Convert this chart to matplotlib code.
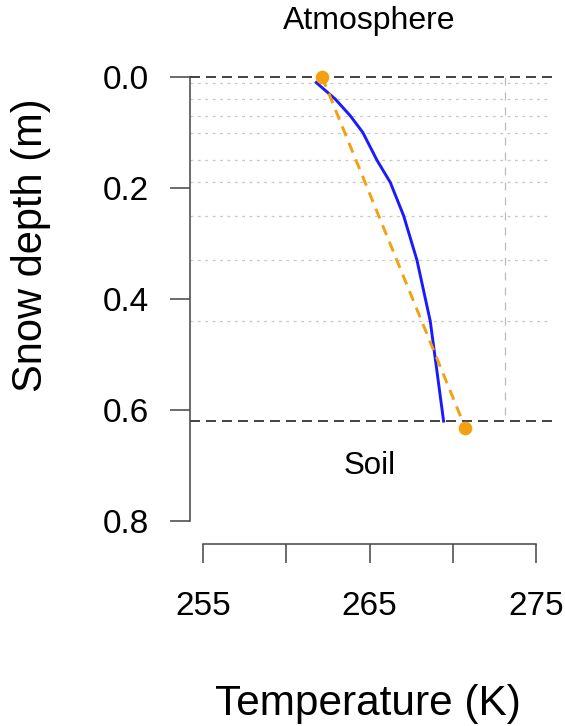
import matplotlib
matplotlib.use("Agg")
import matplotlib.pyplot as plt

plt.rcParams['font.family'] = ['Liberation Sans', 'DejaVu Sans']

# ---- data ----
layer_depths = [0.01, 0.04, 0.07, 0.10, 0.15, 0.19, 0.25, 0.33, 0.44]
snow_depth = 0.62
freezing_K = 273.15
model_depth = [0.01, 0.04, 0.07, 0.10, 0.15, 0.19, 0.25, 0.33, 0.44, 0.62]
model_temp = [261.8, 262.95, 263.85, 264.6, 265.45, 266.25, 267.05, 267.85, 268.65, 269.45]
boundary_depth = [0.0, 0.632]
boundary_temp = [262.15, 270.75]
x_ticks = [255, 260, 265, 270, 275]
x_ticklabels = ['255', '', '265', '', '275']
y_ticks = [0.0, 0.2, 0.4, 0.6, 0.8]
y_ticklabels = ['0.0', '0.2', '0.4', '0.6', '0.8']

W, H = 565, 726
fig = plt.figure(figsize=(W / 100, H / 100), dpi=100)

# axes placement in pixels
left_px, right_px, top_px, bottom_px = 190, 552, 60, 521
ax = fig.add_axes([left_px / W, (H - bottom_px) / H,
                   (right_px - left_px) / W, (bottom_px - top_px) / H])

px_per_K = 333 / 20.0
px_per_m = 444 / 0.8
ax.set_xlim(255 - 13 / px_per_K, 275 + (right_px - 536) / px_per_K)
ax.set_ylim(0.8, 0 - (77 - top_px) / px_per_m)

# grid lines
for d in layer_depths:
    ax.axhline(d, color='#c8c8c8', lw=0.9, linestyle=(0, (2.3, 3.6)), zorder=1)
ax.axhline(0.0, color='#222222', lw=1.2, linestyle=(0, (6.0, 3.6)), zorder=2, clip_on=False)
ax.axhline(snow_depth, color='#222222', lw=1.2, linestyle=(0, (6.0, 3.6)), zorder=2)
ax.plot([freezing_K, freezing_K], [0.0, snow_depth], color='#bbbbbb', lw=0.9,
        linestyle=(0, (6.4, 5.6)), zorder=1)

# profiles
ax.plot(model_temp, model_depth, color='#1a1aff', lw=2.1, zorder=3)
ax.plot(boundary_temp, boundary_depth, color='#f5a00f', lw=2.1,
        linestyle=(0, (3.6, 2.5)), zorder=4, clip_on=False)
ax.plot(boundary_temp, boundary_depth, linestyle='none', marker='o',
        markersize=8.8, color='#f5a00f', zorder=5, clip_on=False)

# labels inside
ax.text(265, -0.0865, 'Atmosphere', ha='center', va='baseline', fontsize=23,
        clip_on=False)
ax.text(265, 0.715, 'Soil', ha='center', va='baseline', fontsize=22.5)

# spines / ticks
for s in ['top', 'right']:
    ax.spines[s].set_visible(False)
for s in ['left', 'bottom']:
    ax.spines[s].set_color('#444444')
    ax.spines[s].set_linewidth(1.1)
ax.spines['left'].set_bounds(0, 0.8)
ax.spines['bottom'].set_bounds(255, 275)
ax.spines['bottom'].set_position(('outward', 23 * 0.72))

ax.set_xticks(x_ticks)
ax.set_xticklabels(x_ticklabels)
ax.set_yticks(y_ticks)
ax.set_yticklabels(y_ticklabels)
ax.tick_params(axis='both', colors='#444444', width=1.1, labelcolor='black',
               labelsize=24)
ax.tick_params(axis='y', length=14.4, pad=15)
ax.tick_params(axis='x', length=13.7, pad=20)

fig.text(31 / W, 1 - 245 / H, 'Snow depth (m)', rotation=90, ha='center',
         va='center', fontsize=30)
fig.text(368 / W, 1 - 715 / H, 'Temperature (K)', ha='center', va='baseline',
         fontsize=30.5)

fig.savefig('out.png', dpi=100)
